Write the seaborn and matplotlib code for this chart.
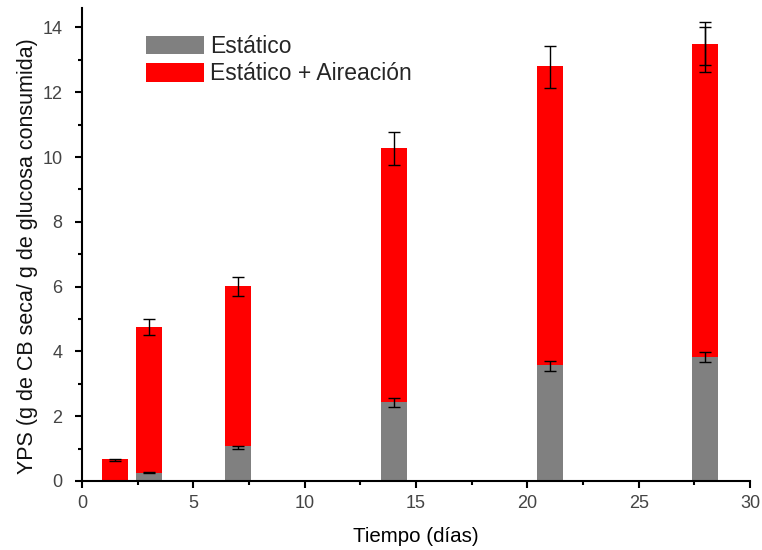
import matplotlib
matplotlib.use("Agg")
import matplotlib.pyplot as plt
import seaborn as sns
import pandas as pd
from matplotlib.ticker import MultipleLocator, AutoMinorLocator
from matplotlib.patches import Patch

days = [1.5, 3, 7, 14, 21, 28]
aire = [0.68, 4.75, 6.01, 10.27, 12.80, 13.50]
aire_mean = [0.66, 4.75, 6.01, 10.26, 12.78, 13.40]
aire_err = [0.03, 0.25, 0.30, 0.52, 0.65, 0.77]
estatico = [0.0, 0.26, 1.09, 2.44, 3.58, 3.82]
est_mean = [0.0, 0.26, 1.03, 2.42, 3.55, 3.82]
est_err = [0.0, 0.01, 0.05, 0.13, 0.15, 0.15]
extra_days = [28]
extra_mean = [13.42]
extra_err = [0.59]

sns.set_theme(style="ticks")
plt.rcParams['font.family'] = ['Liberation Sans', 'DejaVu Sans']

fig = plt.figure(figsize=(7.62, 5.5), dpi=100)
ax = fig.add_axes([0.1076, 0.1255, 0.8766, 0.86])

df_a = pd.DataFrame({"d": days, "v": aire})
df_e = pd.DataFrame({"d": days, "v": estatico})
sns.barplot(data=df_a, x="d", y="v", native_scale=True, color="#ff0000",
            saturation=1, width=0.78, linewidth=0, ax=ax, errorbar=None)
sns.barplot(data=df_e, x="d", y="v", native_scale=True, color="#808080",
            saturation=1, width=0.78, linewidth=0, ax=ax, errorbar=None)

ekw = dict(fmt="none", ecolor="black", elinewidth=1, capsize=4, capthick=1)
ax.errorbar(days, aire_mean, yerr=aire_err, **ekw)
ax.errorbar(days[1:], est_mean[1:], yerr=est_err[1:], **ekw)
ax.errorbar(extra_days, extra_mean, yerr=extra_err, **ekw)

ax.set_xlim(0, 30)
ax.set_ylim(0, 14.6)
ax.xaxis.set_major_locator(MultipleLocator(5))
ax.xaxis.set_minor_locator(AutoMinorLocator(2))
ax.set_yticks(range(0, 15, 2))
ax.yaxis.set_minor_locator(AutoMinorLocator(2))
ax.tick_params(which="major", direction="out", length=5, width=1.5,
               labelsize=13, labelcolor="#444444", color="black")
ax.tick_params(axis="y", which="major", pad=9)
ax.tick_params(axis="x", which="major", pad=5)
ax.tick_params(which="minor", direction="out", length=3, width=1.5, color="black")
for s in ["top", "right"]:
    ax.spines[s].set_visible(False)
for s in ["left", "bottom"]:
    ax.spines[s].set_linewidth(1.5)
    ax.spines[s].set_color("black")

ax.set_xlabel("Tiempo (días)", fontsize=14.8, color="#000000", labelpad=11)
ax.set_ylabel("YPS (g de CB seca/ g de glucosa consumida)", fontsize=15.5,
              color="#111111")
ax.yaxis.set_label_coords(-0.066, 0.475)

handles = [Patch(facecolor="#808080", edgecolor="none", label="Estático"),
           Patch(facecolor="#ff0000", edgecolor="none", label="Estático + Aireación")]
ax.legend(handles=handles, loc="upper left", bbox_to_anchor=(0.082, 0.962),
          frameon=False, fontsize=16.5, handlelength=2.55, handleheight=0.85,
          handletextpad=0.25, labelspacing=0.19, borderaxespad=0)

fig.savefig("out.png", dpi=100)
